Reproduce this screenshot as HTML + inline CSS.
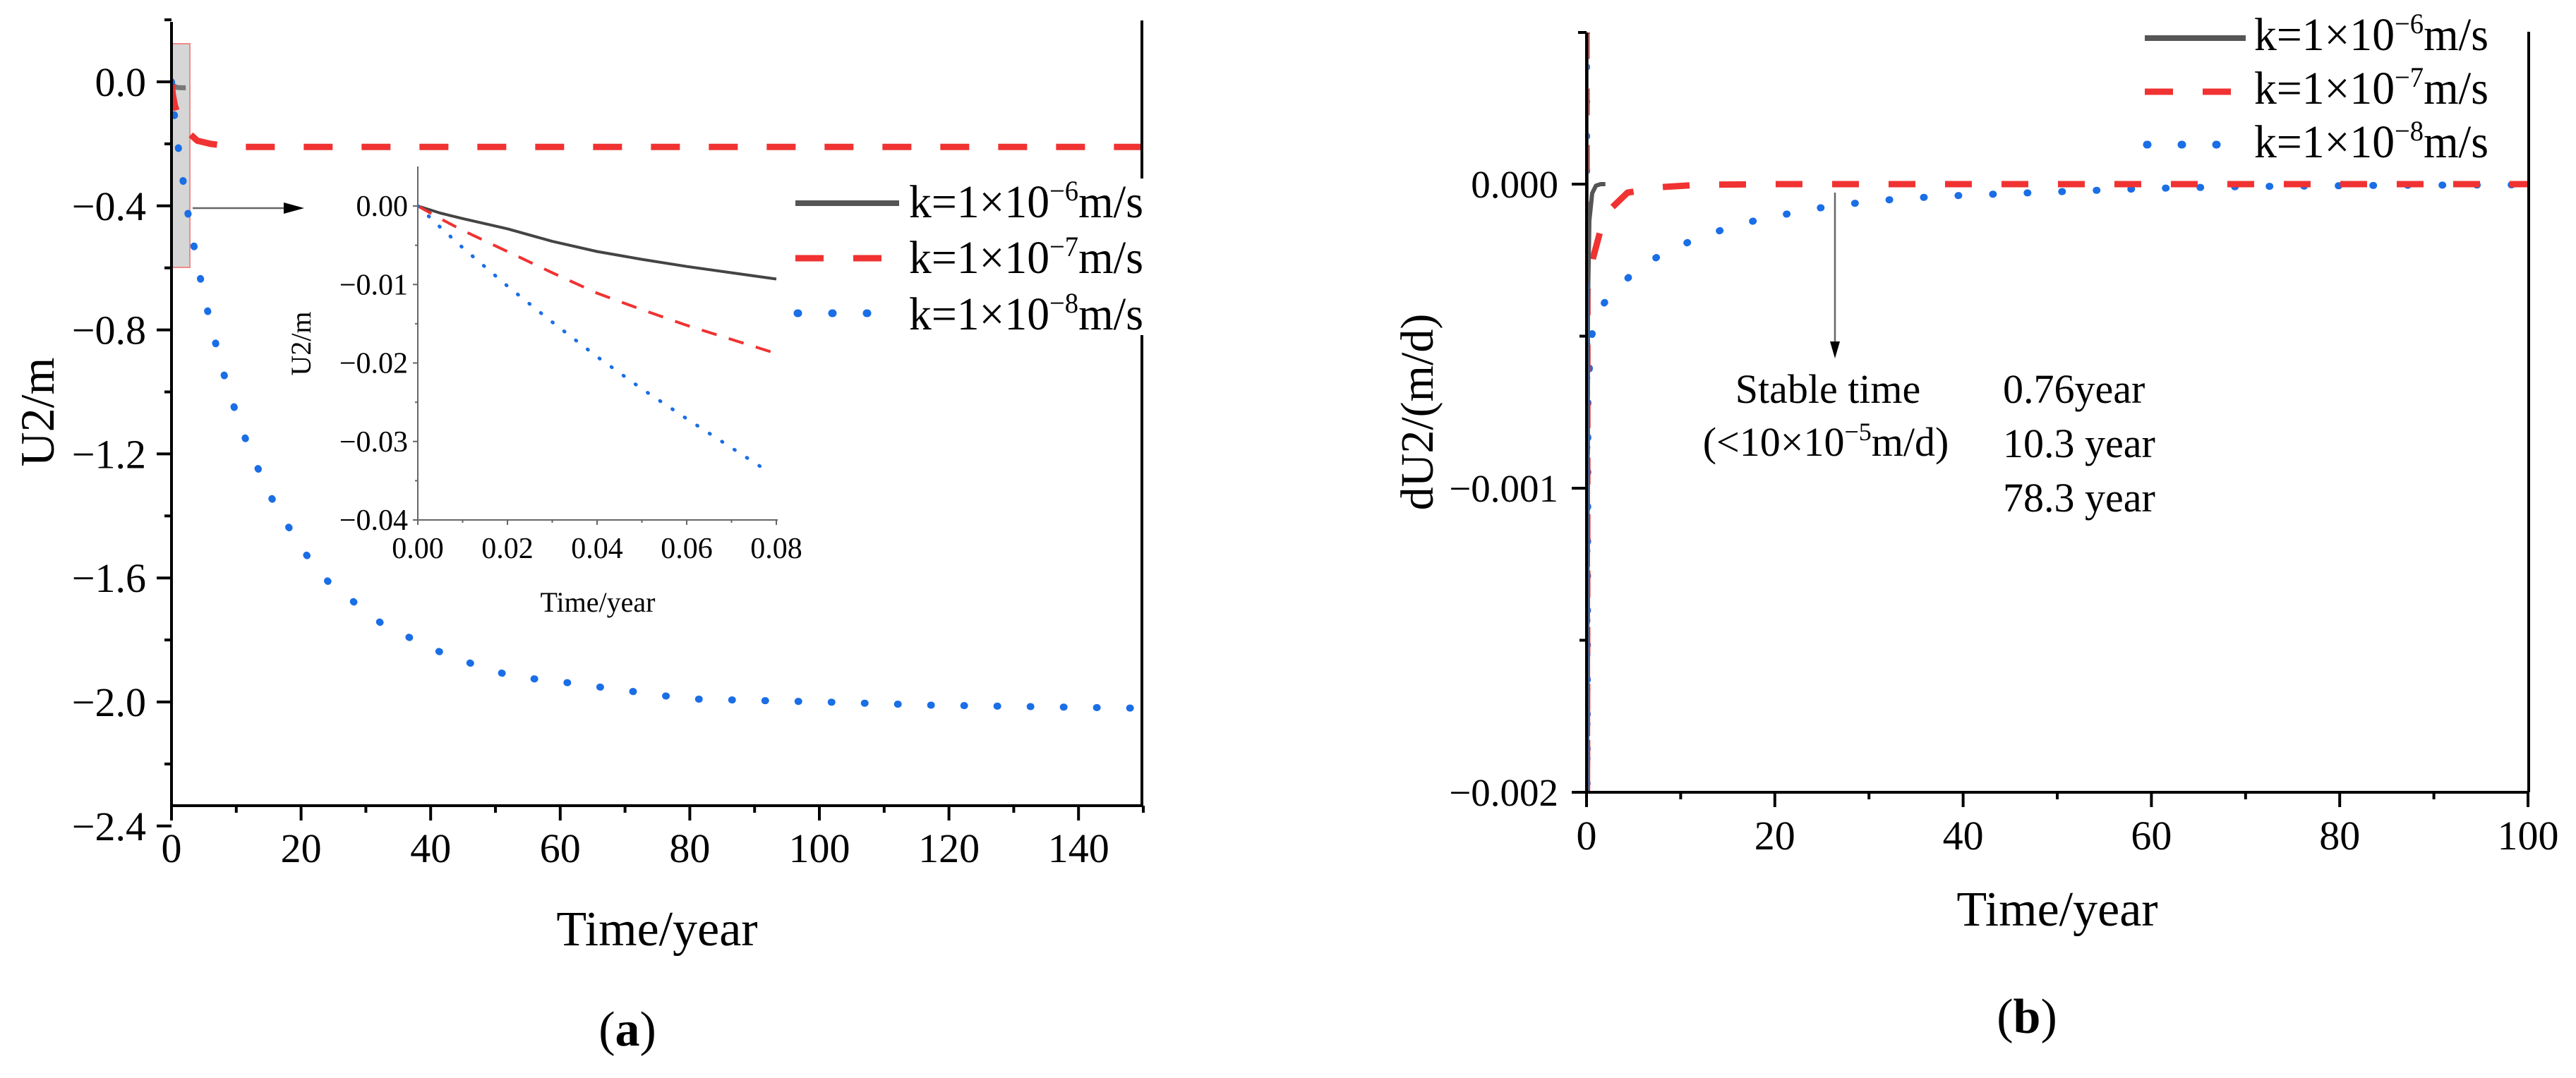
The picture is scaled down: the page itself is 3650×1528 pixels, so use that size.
<!DOCTYPE html>
<html><head><meta charset="utf-8"><style>
html,body{margin:0;padding:0;background:#fff;}
svg{display:block;font-family:"Liberation Serif",serif;}
</style></head><body>
<svg id="fig" width="3650" height="1528" viewBox="0 0 3650 1528" xmlns="http://www.w3.org/2000/svg">
<defs>
<clipPath id="clipA"><rect x="243" y="31" width="1377" height="1111"/></clipPath>
<clipPath id="clipI"><rect x="592" y="236" width="510" height="501"/></clipPath>
<clipPath id="clipB"><rect x="2248" y="46" width="1335" height="1077"/></clipPath>
</defs>
<g id="panelA"></g>
<g id="inset"></g>
<g id="panelB"></g>
</svg>
<script>
// ---------- Panel (a) data ----------
const aTimeGray = [0, 0.3, 0.8, 1.5, 2.2];
const aValGray = [0, -0.012, -0.018, -0.019, -0.019];
const aTimeRed = [0, 0.2, 0.5, 1.2, 2.4, 4, 6, 10, 30, 60, 100, 150];
const aValRed = [0, -0.04, -0.075, -0.12, -0.16, -0.19, -0.2, -0.21, -0.21, -0.21, -0.21, -0.21];
const aTimeBlue = [0, 0.5, 1.2, 2.0, 2.8, 3.9, 5.0, 6.3, 7.6, 9.2, 10.8, 13, 15.1, 17.9, 20.8, 24.1, 28.3, 32.6, 37.5, 42.6, 47.6, 53, 58.3, 69, 79.6, 89.9, 100.8, 116.7, 149, 150];
const aValBlue = [0, -0.12, -0.236, -0.35, -0.46, -0.575, -0.69, -0.8, -0.91, -1.02, -1.12, -1.23, -1.33, -1.43, -1.525, -1.61, -1.68, -1.75, -1.8, -1.85, -1.885, -1.92, -1.93, -1.96, -1.99, -1.995, -2.0, -2.01, -2.02, -2.02];
const aXTicks = [0, 20, 40, 60, 80, 100, 120, 140];
const aYTicks = [0.0, -0.4, -0.8, -1.2, -1.6, -2.0, -2.4];
const aYTickLabels = ["0.0", "\u22120.4", "\u22120.8", "\u22121.2", "\u22121.6", "\u22122.0", "\u22122.4"];
// ---------- Inset data ----------
const iTime = [0, 0.005, 0.01, 0.02, 0.03, 0.04, 0.05, 0.06, 0.07, 0.08];
const iValGray = [0, -0.0009, -0.0016, -0.0029, -0.0045, -0.0058, -0.0068, -0.0077, -0.0085, -0.0093];
const iValRed = [0, -0.0016, -0.0031, -0.0058, -0.0085, -0.0111, -0.0132, -0.0152, -0.017, -0.0188];
const iTimeBlue = [0, 0.005, 0.01, 0.02, 0.03, 0.04, 0.05, 0.06, 0.07, 0.077];
const iValBlue = [0, -0.0027, -0.0053, -0.0102, -0.0148, -0.0192, -0.0233, -0.0271, -0.0308, -0.0334];
const iXTicks = [0, 0.02, 0.04, 0.06, 0.08];
const iXTickLabels = ["0.00", "0.02", "0.04", "0.06", "0.08"];
const iYTicks = [0, -0.01, -0.02, -0.03, -0.04];
const iYTickLabels = ["0.00", "\u22120.01", "\u22120.02", "\u22120.03", "\u22120.04"];
// ---------- Panel (b) data ----------
const bTimeGray = [0, 0.05, 0.15, 0.3, 0.6, 1.0, 1.5, 2.0];
const bValGray = [0.0005, -0.0021, -0.0004, -0.00012, -0.00003, -0.000005, 0, 0];
const bTimeRed = [0, 0.05, 0.1, 0.67, 1.5, 2.4, 4.35, 7.8, 12, 20, 40, 60, 80, 100];
const bValRed = [0.0005, -0.0021, -0.00035, -0.000246, -0.00015, -0.000086, -0.000028, -0.00001, -0.000002, 0, 0, 0, 0, 0];
const bTimeBlue = [0, 0.05, 0.15, 0.45, 1.1, 3.4, 6.3, 9.5, 13, 16.4, 20, 23.4, 26.7, 30.3, 34, 37.7, 41.4, 50, 60, 70, 85, 100];
const bValBlue = [0.0005, -0.0021, -0.0007, -0.000513, -0.00042, -0.000334, -0.00026, -0.000207, -0.000165, -0.00013, -0.000107, -0.000084, -0.00007, -0.000056, -0.000047, -0.00004, -0.000035, -0.000025, -0.000014, -0.000008, -0.000004, -0.000002];
const bXTicks = [0, 20, 40, 60, 80, 100];
const bYTicks = [0, -0.001, -0.002];
const bYTickLabels = ["0.000", "\u22120.001", "\u22120.002"];
const legendLabels = ["6", "7", "8"];
const stableTimes = ["0.76year", "10.3 year", "78.3 year"];

const NS = "http://www.w3.org/2000/svg";
function mk(parent, tag, attrs, text) {
  const e = document.createElementNS(NS, tag);
  for (const k in attrs) e.setAttribute(k, attrs[k]);
  if (text !== undefined) e.textContent = text;
  parent.appendChild(e);
  return e;
}
// axis functions
const axA = { x: t => 243 + t * 9.18, y: v => 116 - v / 0.4 * 175.8 };
const axI = { x: t => 592 + t / 0.02 * 127, y: v => 292 - v / 0.01 * 111.25 };
const axB = { x: t => 2248 + t * 13.34, y: v => 261 - v * 431000 };

const RED = "#f03232", BLUE = "#1a6ee6", GRAY = "#4a4a4a";

function series(parent, ax, xs, ys, style, clip, name) {
  const pts = xs.map((t, i) => ax.x(t).toFixed(1) + "," + ax.y(ys[i]).toFixed(1)).join(" ");
  const p = mk(parent, "polyline", Object.assign({ points: pts, fill: "none", "clip-path": "url(#" + clip + ")", "stroke-linejoin": "round" }, style));
  
  
  return p;
}

// ===== Panel A =====
const A = document.getElementById("panelA");
// highlight box
const hb = mk(A, "rect", { x: 243, y: 62, width: 26, height: 317, fill: "#d6d6d6", stroke: "#f08a8a", "stroke-width": 2 });


series(A, axA, aTimeGray, aValGray, { stroke: "#777", "stroke-width": 7 }, "clipA", "series-a-k1e-6");
series(A, axA, aTimeRed, aValRed, { stroke: RED, "stroke-width": 9, "stroke-dasharray": "41 41" }, "clipA", "series-a-k1e-7");
series(A, axA, aTimeBlue, aValBlue, { stroke: BLUE, "stroke-width": 10, "stroke-dasharray": "1 46", "stroke-linecap": "round" }, "clipA", "series-a-k1e-8");
// axes
mk(A, "line", { x1: 243, y1: 31, x2: 243, y2: 1142, stroke: "#000", "stroke-width": 4 });
mk(A, "line", { x1: 241, y1: 1142, x2: 1620, y2: 1142, stroke: "#000", "stroke-width": 4 });
mk(A, "line", { x1: 1618, y1: 29, x2: 1618, y2: 253, stroke: "#000", "stroke-width": 4 });
mk(A, "line", { x1: 1618, y1: 475, x2: 1618, y2: 1142, stroke: "#000", "stroke-width": 4 });
aYTicks.forEach((v, i) => {
  const y = axA.y(v);
  mk(A, "line", { x1: 222, y1: y, x2: 243, y2: y, stroke: "#000", "stroke-width": 4 });
  if (i < aYTicks.length - 1) { const ym = axA.y(v - 0.2); mk(A, "line", { x1: 233, y1: ym, x2: 243, y2: ym, stroke: "#000", "stroke-width": 4 }); }
  const t = mk(A, "text", { x: 207, y: y + 20, "font-size": 58, "text-anchor": "end" }, aYTickLabels[i]);
  
  
});
mk(A, "line", { x1: 233, y1: axA.y(0.2), x2: 243, y2: axA.y(0.2), stroke: "#000", "stroke-width": 4 });
aXTicks.forEach(v => {
  const x = axA.x(v);
  mk(A, "line", { x1: x, y1: 1142, x2: x, y2: 1163, stroke: "#000", "stroke-width": 4 });
  const xm = axA.x(v + 10);
  mk(A, "line", { x1: xm, y1: 1142, x2: xm, y2: 1152, stroke: "#000", "stroke-width": 4 });
  const t = mk(A, "text", { x: x, y: 1222, "font-size": 58, "text-anchor": "middle" }, String(v));
  
  
});
const ayl = mk(A, "text", { x: 0, y: 0, "font-size": 68, "text-anchor": "middle", transform: "translate(76,584) rotate(-90)" }, "U2/m");


const axl = mk(A, "text", { x: 931, y: 1340, "font-size": 70, "text-anchor": "middle" }, "Time/year");


const pa = mk(A, "text", { x: 889, y: 1482, "font-size": 70, "text-anchor": "middle" });
mk(pa, "tspan", {}, "(");
mk(pa, "tspan", { "font-weight": "bold" }, "a");
mk(pa, "tspan", {}, ")");


// arrow to inset
mk(A, "line", { x1: 273, y1: 295, x2: 405, y2: 295, stroke: "#666", "stroke-width": 2.5 });
mk(A, "polygon", { points: "402,287 431,295 402,303", fill: "#000" });

// legend A
function legend(parent, lx1, lx2, lineYs, tx, baseYs, prefix) {
  const styles = [
    { stroke: "#555", "stroke-width": 8 },
    { stroke: RED, "stroke-width": 9, "stroke-dasharray": "40 42" },
    { stroke: BLUE, "stroke-width": 11, "stroke-dasharray": "1 48", "stroke-linecap": "round" }
  ];
  legendLabels.forEach((e, i) => {
    const g = mk(parent, "g", {});
    
    
    mk(g, "line", Object.assign({ x1: lx1 + (i == 2 ? 3 : 0), y1: lineYs[i], x2: lx2, y2: lineYs[i] }, styles[i]));
    const t = mk(g, "text", { x: tx, y: baseYs[i], "font-size": 66, textLength: 332, lengthAdjust: "spacingAndGlyphs" });
    mk(t, "tspan", {}, "k=1\u00d710");
    mk(t, "tspan", { dy: -24, "font-size": 40 }, "\u2212" + e);
    mk(t, "tspan", { dy: 24 }, "m/s");
  });
}
legend(A, 1127, 1274, [288, 366, 444], 1288, [308, 387, 467], "a");

// ===== Inset =====
const I = document.getElementById("inset");
series(I, axI, iTime, iValGray, { stroke: "#444", "stroke-width": 4 }, "clipI", "inset-series-k1e-6");
series(I, axI, iTime, iValRed, { stroke: RED, "stroke-width": 4, "stroke-dasharray": "22 18" }, "clipI", "inset-series-k1e-7");
series(I, axI, iTimeBlue, iValBlue, { stroke: BLUE, "stroke-width": 5, "stroke-dasharray": "1 20", "stroke-linecap": "round" }, "clipI", "inset-series-k1e-8");
mk(I, "line", { x1: 592, y1: 236, x2: 592, y2: 737, stroke: "#666", "stroke-width": 2 });
mk(I, "line", { x1: 592, y1: 737, x2: 1102, y2: 737, stroke: "#666", "stroke-width": 2 });
iYTicks.forEach((v, i) => {
  const y = axI.y(v);
  mk(I, "line", { x1: 585, y1: y, x2: 592, y2: y, stroke: "#666", "stroke-width": 2 });
  if (i < iYTicks.length - 1) { const ym = axI.y(v - 0.005); mk(I, "line", { x1: 588, y1: ym, x2: 592, y2: ym, stroke: "#666", "stroke-width": 2 }); }
  const t = mk(I, "text", { x: 578, y: y + 14, "font-size": 42, "text-anchor": "end" }, iYTickLabels[i]);
  
  
});
iXTicks.forEach((v, i) => {
  const x = axI.x(v);
  mk(I, "line", { x1: x, y1: 737, x2: x, y2: 744, stroke: "#666", "stroke-width": 2 });
  if (i < iXTicks.length - 1) { const xm = axI.x(v + 0.01); mk(I, "line", { x1: xm, y1: 737, x2: xm, y2: 741, stroke: "#666", "stroke-width": 2 }); }
  const t = mk(I, "text", { x: x, y: 791, "font-size": 42, "text-anchor": "middle" }, iXTickLabels[i]);
  
  
});
const iyl = mk(I, "text", { x: 0, y: 0, "font-size": 40, "text-anchor": "middle", transform: "translate(440,487) rotate(-90)" }, "U2/m");


const ixl = mk(I, "text", { x: 847, y: 867, "font-size": 40, "text-anchor": "middle" }, "Time/year");



// ===== Panel B =====
const B = document.getElementById("panelB");
series(B, axB, bTimeBlue, bValBlue, { stroke: BLUE, "stroke-width": 10, "stroke-dasharray": "1 48", "stroke-linecap": "round" }, "clipB", "series-b-k1e-8");
series(B, axB, bTimeRed, bValRed, { stroke: RED, "stroke-width": 9, "stroke-dasharray": "38 42" }, "clipB", "series-b-k1e-7");
series(B, axB, bTimeGray, bValGray, { stroke: "#555", "stroke-width": 6 }, "clipB", "series-b-k1e-6");
// vertical near-zero blue line (steep initial transient)
mk(B, "line", { x1: 2249, y1: 400, x2: 2249, y2: 1120, stroke: BLUE, "stroke-width": 3 });
mk(B, "line", { x1: 2248, y1: 46, x2: 2248, y2: 1123, stroke: "#000", "stroke-width": 4 });
mk(B, "line", { x1: 2246, y1: 1123, x2: 3583, y2: 1123, stroke: "#000", "stroke-width": 4 });
mk(B, "line", { x1: 3583, y1: 45, x2: 3583, y2: 1123, stroke: "#000", "stroke-width": 4 });
mk(B, "line", { x1: 2236, y1: 46, x2: 2248, y2: 46, stroke: "#000", "stroke-width": 4 });
bYTicks.forEach((v, i) => {
  const y = axB.y(v);
  mk(B, "line", { x1: 2227, y1: y, x2: 2248, y2: y, stroke: "#000", "stroke-width": 4 });
  if (i < bYTicks.length - 1) { const ym = axB.y(v - 0.0005); mk(B, "line", { x1: 2238, y1: ym, x2: 2248, y2: ym, stroke: "#000", "stroke-width": 4 }); }
  const t = mk(B, "text", { x: 2208, y: y + 19, "font-size": 55, "text-anchor": "end" }, bYTickLabels[i]);
  
  
});
bXTicks.forEach((v, i) => {
  const x = axB.x(v);
  mk(B, "line", { x1: x, y1: 1123, x2: x, y2: 1144, stroke: "#000", "stroke-width": 4 });
  if (i < bXTicks.length - 1) { const xm = axB.x(v + 10); mk(B, "line", { x1: xm, y1: 1123, x2: xm, y2: 1133, stroke: "#000", "stroke-width": 4 }); }
  const t = mk(B, "text", { x: x, y: 1204, "font-size": 58, "text-anchor": "middle" }, String(v));
  
  
});
const byl = mk(B, "text", { x: 0, y: 0, "font-size": 66, "text-anchor": "middle", transform: "translate(2030,584) rotate(-90)" }, "dU2/(m/d)");


const bxl = mk(B, "text", { x: 2915, y: 1312, "font-size": 70, "text-anchor": "middle" }, "Time/year");


const pb = mk(B, "text", { x: 2872, y: 1464, "font-size": 70, "text-anchor": "middle" });
mk(pb, "tspan", {}, "(");
mk(pb, "tspan", { "font-weight": "bold" }, "b");
mk(pb, "tspan", {}, ")");


// annotation arrow
mk(B, "line", { x1: 2600, y1: 273, x2: 2600, y2: 490, stroke: "#666", "stroke-width": 2.5 });
mk(B, "polygon", { points: "2593,484 2600,508 2607,484", fill: "#000" });
const st = mk(B, "text", { x: 2590, y: 571, "font-size": 58, "text-anchor": "middle" }, "Stable time");


const st2 = mk(B, "text", { x: 2587, y: 646, "font-size": 58, "text-anchor": "middle" });
mk(st2, "tspan", {}, "(<10\u00d710");
mk(st2, "tspan", { dy: -22, "font-size": 36 }, "\u22125");
mk(st2, "tspan", { dy: 22 }, "m/d)");


stableTimes.forEach((s, i) => {
  const t = mk(B, "text", { x: 2838, y: 571 + i * 77, "font-size": 58 }, s);
  
  
});
legend(B, 3039, 3182, [54, 130, 205], 3194, [71, 147, 223], "b");
</script>
</body></html>
